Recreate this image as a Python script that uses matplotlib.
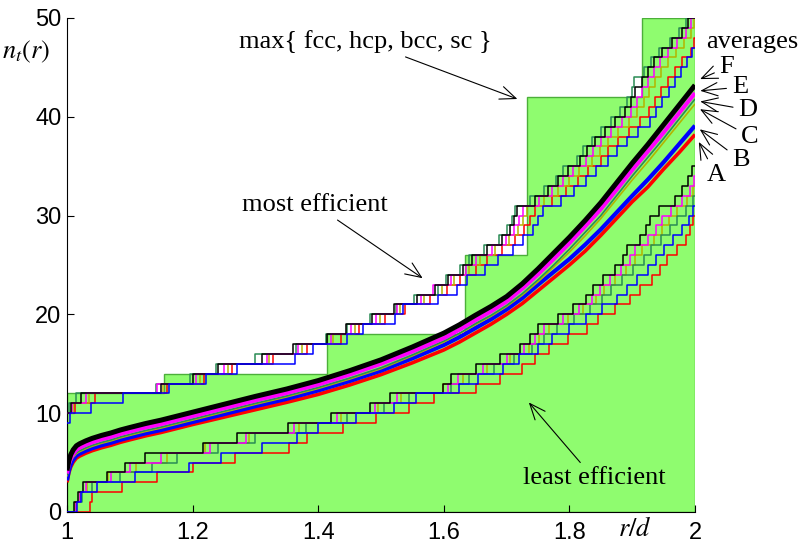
import numpy as np
import matplotlib
matplotlib.use("Agg")
import matplotlib.pyplot as plt

plt.rcParams["mathtext.fontset"] = "stix"

# max{fcc, hcp, bcc, sc} staircase (green region)
green_r = [1.0, 1.1547, 1.4142, 1.633, 1.7321, 1.9149, 2.0]
green_n = [12, 14, 18, 26, 42, 50]

# averages, one curve per series
r_avg = [1.0, 1.003, 1.006, 1.01, 1.015, 1.02, 1.03, 1.04, 1.055, 1.07, 1.085, 1.1, 1.125, 1.15,
         1.175, 1.2, 1.25, 1.3, 1.35, 1.4, 1.45, 1.5, 1.55, 1.6, 1.625, 1.65, 1.675, 1.7, 1.725,
         1.75, 1.775, 1.8, 1.825, 1.85, 1.875, 1.9, 1.925, 1.95, 1.975, 2.0]
avg_F = [4.2, 5.2, 5.8, 6.3, 6.7, 6.9, 7.2, 7.45, 7.75, 8.0, 8.3, 8.55, 8.95, 9.3, 9.7, 10.1, 10.9,
         11.7, 12.45, 13.3, 14.3, 15.4, 16.7, 18.1, 18.95, 19.9, 20.8, 21.8, 23.1, 24.6, 26.2, 27.8,
         29.5, 31.3, 33.3, 35.3, 37.2, 39.2, 41.2, 43.2]
avg_E = [3.9, 4.85, 5.4, 5.9, 6.3, 6.5, 6.8, 7.05, 7.35, 7.6, 7.9, 8.15, 8.55, 8.9, 9.3, 9.7, 10.5,
         11.3, 12.05, 12.9, 13.9, 15.0, 16.25, 17.6, 18.45, 19.4, 20.3, 21.3, 22.6, 24.05, 25.6, 27.2,
         28.9, 30.65, 32.6, 34.6, 36.5, 38.4, 40.4, 42.4]
avg_D = [3.7, 4.6, 5.2, 5.7, 6.0, 6.2, 6.5, 6.75, 7.05, 7.3, 7.6, 7.85, 8.25, 8.6, 9.0, 9.4, 10.2,
         11.0, 11.75, 12.6, 13.55, 14.6, 15.9, 17.3, 18.1, 19.05, 19.9, 20.9, 22.1, 23.5, 25.0, 26.6,
         28.3, 30.0, 32.0, 34.0, 35.9, 37.8, 39.8, 41.8]
avg_C = [3.6, 4.5, 5.1, 5.55, 5.9, 6.1, 6.4, 6.65, 6.95, 7.2, 7.5, 7.75, 8.15, 8.5, 8.9, 9.3, 10.1,
         10.9, 11.65, 12.5, 13.45, 14.5, 15.8, 17.2, 18.05, 18.95, 19.8, 20.8, 21.95, 23.3, 24.8, 26.3,
         27.95, 29.7, 31.65, 33.6, 35.45, 37.4, 39.35, 41.3]
avg_B = [3.2, 4.2, 4.8, 5.3, 5.7, 5.9, 6.2, 6.45, 6.75, 7.0, 7.3, 7.55, 7.95, 8.3, 8.7, 9.1, 9.9,
         10.7, 11.45, 12.3, 13.25, 14.3, 15.55, 16.9, 17.7, 18.6, 19.5, 20.5, 21.65, 23.0, 24.3, 25.6,
         27.05, 28.6, 30.3, 32.0, 33.65, 35.4, 37.25, 39.1]
avg_A = [3.0, 3.95, 4.55, 5.05, 5.45, 5.65, 5.95, 6.2, 6.5, 6.75, 7.05, 7.3, 7.7, 8.05, 8.45, 8.85, 9.6,
         10.35, 11.1, 11.9, 12.85, 13.9, 15.1, 16.4, 17.2, 18.1, 19.0, 20.0, 21.1, 22.4, 23.7, 25.0,
         26.4, 28.0, 29.7, 31.4, 32.9, 34.7, 36.4, 38.2]

# "most efficient": starting count at r=1 and r/d where the count goes up by one
up_start = {"A": 10, "B": 9, "C": 10, "D": 10, "E": 10, "F": 10}
up_A = [1.012, 1.045, 1.160, 1.218, 1.262, 1.328, 1.382, 1.436, 1.465, 1.506, 1.538, 1.578, 1.605, 1.626,
        1.652, 1.668, 1.692, 1.714, 1.728, 1.737, 1.745, 1.773, 1.795, 1.813, 1.830, 1.850, 1.862, 1.877,
        1.895, 1.912, 1.926, 1.937, 1.946, 1.957, 1.968, 1.980, 1.993, 1.998]
up_B = [1.005, 1.039, 1.089, 1.162, 1.222, 1.270, 1.363, 1.392, 1.446, 1.471, 1.522, 1.535, 1.591, 1.621,
        1.637, 1.666, 1.686, 1.710, 1.726, 1.742, 1.750, 1.758, 1.787, 1.808, 1.826, 1.842, 1.862, 1.876,
        1.892, 1.910, 1.928, 1.938, 1.948, 1.958, 1.968, 1.978, 1.987, 1.995]
up_C = [1.010, 1.035, 1.153, 1.212, 1.256, 1.322, 1.374, 1.424, 1.458, 1.498, 1.530, 1.568, 1.597, 1.616,
        1.640, 1.658, 1.682, 1.704, 1.718, 1.726, 1.733, 1.760, 1.782, 1.800, 1.816, 1.836, 1.848, 1.862,
        1.878, 1.895, 1.908, 1.918, 1.926, 1.936, 1.946, 1.957, 1.969, 1.982, 1.993, 1.999]
up_D = [1.004, 1.015, 1.141, 1.196, 1.238, 1.300, 1.365, 1.412, 1.446, 1.482, 1.524, 1.553, 1.590, 1.604,
        1.626, 1.640, 1.664, 1.688, 1.700, 1.708, 1.714, 1.738, 1.760, 1.778, 1.790, 1.812, 1.822, 1.836,
        1.850, 1.866, 1.880, 1.892, 1.900, 1.903, 1.918, 1.930, 1.942, 1.960, 1.975, 1.986]
up_E = [1.008, 1.030, 1.143, 1.205, 1.250, 1.318, 1.368, 1.420, 1.452, 1.492, 1.526, 1.564, 1.583, 1.612,
        1.636, 1.652, 1.676, 1.699, 1.712, 1.719, 1.726, 1.752, 1.773, 1.790, 1.806, 1.826, 1.838, 1.850,
        1.866, 1.884, 1.898, 1.908, 1.915, 1.925, 1.935, 1.945, 1.957, 1.972, 1.985, 1.994]
up_F = [1.006, 1.022, 1.150, 1.200, 1.240, 1.310, 1.360, 1.414, 1.445, 1.486, 1.520, 1.558, 1.586, 1.607,
        1.630, 1.645, 1.668, 1.692, 1.705, 1.712, 1.717, 1.745, 1.766, 1.782, 1.798, 1.817, 1.828, 1.841,
        1.857, 1.873, 1.889, 1.898, 1.905, 1.915, 1.925, 1.935, 1.947, 1.963, 1.979, 1.989]

# "least efficient": all start from zero at r=1
lo_A = [1.036, 1.040, 1.087, 1.143, 1.201, 1.267, 1.354, 1.382, 1.440, 1.492, 1.545, 1.585, 1.652, 1.690,
        1.725, 1.745, 1.767, 1.798, 1.828, 1.846, 1.873, 1.897, 1.912, 1.931, 1.945, 1.955, 1.972, 1.985,
        1.992, 1.997]
lo_B = [1.016, 1.022, 1.048, 1.108, 1.195, 1.245, 1.310, 1.366, 1.400, 1.460, 1.520, 1.555, 1.625, 1.655,
        1.695, 1.720, 1.750, 1.772, 1.800, 1.826, 1.852, 1.875, 1.892, 1.908, 1.925, 1.938, 1.950, 1.965,
        1.980, 1.990, 1.996]
lo_C = [1.013, 1.021, 1.032, 1.066, 1.110, 1.160, 1.219, 1.290, 1.370, 1.436, 1.495, 1.532, 1.598, 1.630,
        1.668, 1.705, 1.735, 1.752, 1.768, 1.798, 1.822, 1.842, 1.855, 1.872, 1.890, 1.905, 1.915, 1.935,
        1.948, 1.958, 1.972, 1.988, 1.997]
lo_D = [1.015, 1.024, 1.040, 1.085, 1.135, 1.175, 1.240, 1.300, 1.380, 1.446, 1.505, 1.545, 1.612, 1.640,
        1.680, 1.712, 1.740, 1.760, 1.780, 1.808, 1.832, 1.852, 1.866, 1.884, 1.902, 1.918, 1.930, 1.946,
        1.960, 1.972, 1.985, 1.996]
lo_E = [1.014, 1.020, 1.030, 1.070, 1.100, 1.150, 1.227, 1.285, 1.362, 1.430, 1.490, 1.525, 1.606, 1.622,
        1.662, 1.700, 1.728, 1.745, 1.760, 1.790, 1.816, 1.836, 1.848, 1.864, 1.882, 1.896, 1.905, 1.925,
        1.938, 1.948, 1.962, 1.980, 1.992, 1.998]
lo_F = [1.011, 1.018, 1.026, 1.063, 1.092, 1.124, 1.217, 1.270, 1.352, 1.420, 1.482, 1.514, 1.599, 1.612,
        1.652, 1.690, 1.721, 1.737, 1.750, 1.782, 1.806, 1.827, 1.838, 1.854, 1.872, 1.885, 1.891, 1.912,
        1.922, 1.928, 1.942, 1.968, 1.979, 1.989, 1.995]

colors = {"A": "#ff0000", "B": "#0000ff", "C": "#b4b400", "D": "#2a8c55", "E": "#ff00ff", "F": "#000000"}
avg_width = {"A": 2.6, "B": 3.0, "C": 1.2, "D": 1.2, "E": 3.0, "F": 3.6}
averages = {"A": avg_A, "B": avg_B, "C": avg_C, "D": avg_D, "E": avg_E, "F": avg_F}
upper = {"A": up_A, "B": up_B, "C": up_C, "D": up_D, "E": up_E, "F": up_F}
lower = {"A": lo_A, "B": lo_B, "C": lo_C, "D": lo_D, "E": lo_E, "F": lo_F}
draw_order = ["A", "C", "D", "E", "F", "B"]


def stairs(ax, steps, n0, color):
    x = np.r_[1.0, steps, 2.0]
    y = n0 + np.r_[np.arange(len(steps) + 1), len(steps)]
    ax.step(x, y, where="post", color=color, lw=1.1, zorder=3)


serif = "Liberation Serif"
sans = "Liberation Sans"

fig = plt.figure(figsize=(8.02, 5.46), dpi=100)
ax = fig.add_axes([0.0835, 0.0623, 0.7831, 0.9048])

# green region under the best lattice staircase
gx = np.r_[1.0, np.repeat(green_r, 2)[1:-1], 2.0]
gy = np.r_[0, np.repeat(green_n, 2), 0]
ax.fill(gx, gy, facecolor="#8ffc6f", edgecolor="#4caf3a", lw=1.0, zorder=1)

for k in draw_order:
    stairs(ax, upper[k], up_start[k], colors[k])
    stairs(ax, lower[k], 0, colors[k])

for k in ["A", "B", "C", "D", "E", "F"]:
    ax.plot(r_avg, averages[k], color=colors[k], lw=avg_width[k], zorder=4,
            solid_capstyle="butt")

ax.set_xlim(1, 2)
ax.set_ylim(0, 50)
ax.set_xticks([1, 1.2, 1.4, 1.6, 1.8, 2])
ax.set_xticklabels(["1", "1.2", "1.4", "1.6", "1.8", "2"])
ax.set_yticks([0, 10, 20, 30, 40, 50])
for s in ["top", "right"]:
    ax.spines[s].set_visible(False)
ax.tick_params(direction="in", length=5, labelsize=17, pad=4)
for lab in ax.get_xticklabels() + ax.get_yticklabels():
    lab.set_family(sans)
ax.tick_params(axis="x", pad=7)

fig.text(0.002, 0.905, r"$n_t(r)$", fontsize=19, ha="left", va="center")
fig.text(0.792, 0.032, r"$r/d$", fontsize=19, ha="center", va="center")

arrow = dict(arrowstyle="->,head_length=0.6,head_width=0.25", lw=0.8, color="k")
tfont = dict(fontsize=19, family=serif)

ax.annotate("max{ fcc, hcp, bcc, sc }", xy=(1.7213, 41.7), xytext=(1.4745, 47.6),
            ha="center", va="center", arrowprops=arrow, zorder=6, **tfont)
ax.annotate("most efficient", xy=(1.570, 23.5), xytext=(1.395, 31.1),
            ha="center", va="center", arrowprops=arrow, zorder=6, **tfont)
ax.annotate("least efficient", xy=(1.7325, 11.3), xytext=(1.839, 3.4),
            ha="center", va="center", arrowprops=arrow, zorder=6, **tfont)
ax.text(2.091, 47.6, "averages", ha="center", va="center", clip_on=False, **tfont)

label_pos = {"F": (2.051, 45.0, 43.7), "E": (2.0717, 43.0, 42.6), "D": (2.0844, 40.7, 41.6),
             "C": (2.0876, 38.0, 40.9), "B": (2.073, 35.6, 38.9), "A": (2.0334, 34.1, 37.7)}
for k, (tx, ty, tip) in label_pos.items():
    ax.annotate(k, xy=(2.004, tip), xytext=(tx, ty), ha="center", va="center",
                arrowprops=arrow, annotation_clip=False, fontsize=19, family=serif)

fig.savefig("out.png", dpi=100)
